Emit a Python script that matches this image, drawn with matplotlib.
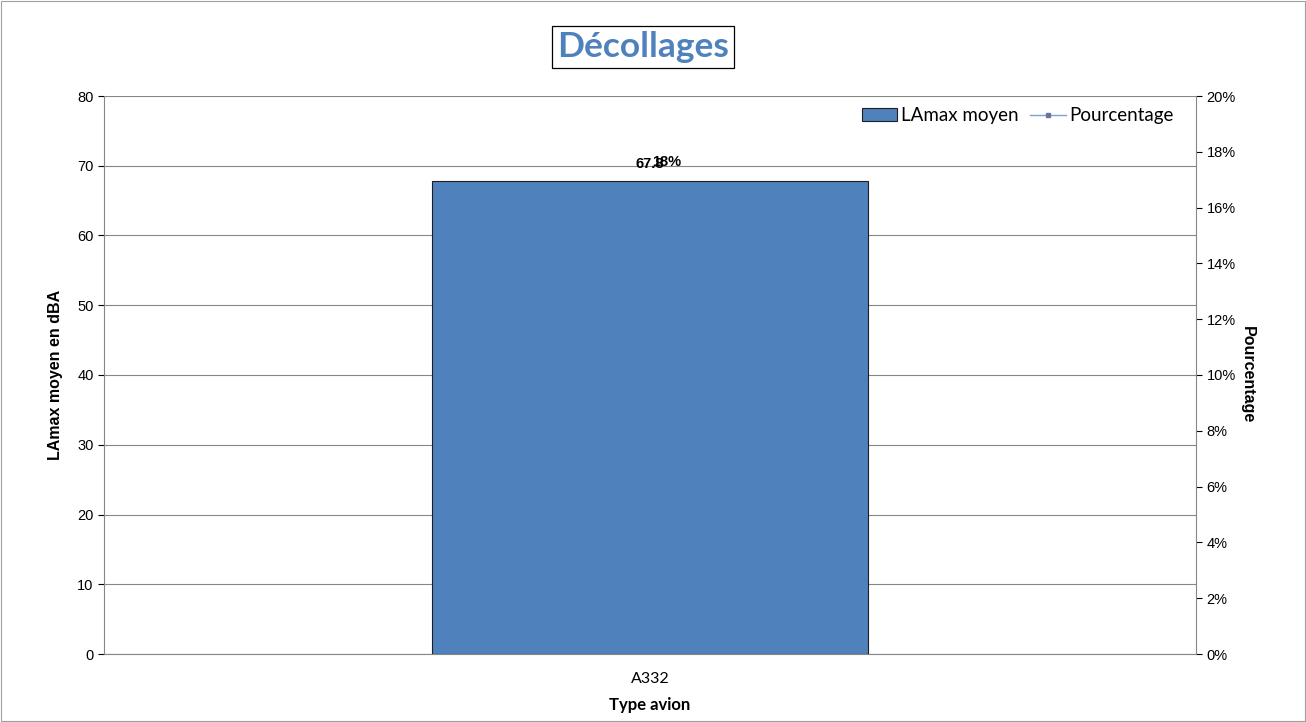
import matplotlib
matplotlib.use("Agg")
import matplotlib.pyplot as plt
from matplotlib.ticker import PercentFormatter
from matplotlib.lines import Line2D
from matplotlib.patches import Patch

categories = ["A332"]
lamax = [67.8]
pourcentage = [0.18]
left_ticks = [0, 10, 20, 30, 40, 50, 60, 70, 80]
right_ticks = [0, 0.02, 0.04, 0.06, 0.08, 0.10, 0.12, 0.14, 0.16, 0.18, 0.20]

BLUE = "#4F81BD"
fig = plt.figure(figsize=(13.06, 7.22), dpi=100)
fig.patches.append(plt.Rectangle((0.001, 0.001), 0.998, 0.998, transform=fig.transFigure,
                                 fill=False, edgecolor="#A0A0A0", linewidth=0.8))
ax = fig.add_axes([104/1306, 1-654/722, (1196-104)/1306, (654-96)/722])
x = list(range(len(categories)))
ax.bar(x, lamax, width=0.4, color=BLUE, edgecolor="#1F1F1F", linewidth=0.8, zorder=3)
ax.set_xlim(-0.5, len(categories)-0.5)
ax.set_ylim(0, 80)
ax.set_yticks(left_ticks)
ax.set_xticks(x)
ax.set_xticklabels(categories, fontfamily="Lato", fontsize=11.5)
ax.tick_params(axis="x", length=0, pad=13)
ax.tick_params(axis="y", labelsize=10.5, length=4, direction="out")
for lab in ax.get_yticklabels():
    lab.set_fontfamily("Liberation Sans")
ax.yaxis.grid(True, color="#868686", linewidth=0.8, zorder=0)
for s in ["top", "right"]:
    ax.spines[s].set_visible(False)
ax.spines["left"].set_color("#868686")
ax.spines["bottom"].set_color("#868686")
ax.set_ylabel("LAmax moyen en dBA", fontfamily="Liberation Sans", fontweight="bold", fontsize=11.5, labelpad=10)
ax.set_xlabel("Type avion", fontfamily="Lato", fontweight="bold", fontsize=12, labelpad=8)

ax2 = ax.twinx()
ax2.set_ylim(0, 0.20)
ax2.set_yticks(right_ticks)
ax2.yaxis.set_major_formatter(PercentFormatter(1.0, decimals=0))
ax2.plot(x, pourcentage, color=BLUE, linewidth=0.8, marker="s", markersize=0.1, alpha=0)
ax2.tick_params(axis="y", labelsize=10.5, length=4, direction="out", colors="black")
for lab in ax2.get_yticklabels():
    lab.set_fontfamily("Liberation Sans")
for s in ["top", "left", "bottom"]:
    ax2.spines[s].set_visible(False)
ax2.spines["right"].set_color("#868686")
ax2.set_ylabel("Pourcentage", fontfamily="Liberation Sans", fontweight="bold", fontsize=11.5,
               rotation=270, labelpad=14)

for xi, v in zip(x, lamax):
    ax.annotate(f"{v:.1f}", (xi, v), xytext=(-0.5, 7), textcoords="offset points",
                ha="center", va="bottom", fontsize=10.5, fontweight="bold", fontfamily="Liberation Sans", zorder=5)
for xi, p in zip(x, pourcentage):
    ax.annotate(f"{p*100:.0f}%", (xi, lamax[0]), xytext=(12, 9), textcoords="offset points",
                ha="center", va="bottom", fontsize=10.5, fontweight="bold", fontfamily="Liberation Sans", zorder=5)

handles = [Patch(facecolor=BLUE, edgecolor="#1F1F1F", linewidth=0.8),
           Line2D([0], [0], color="#7F9FCF", linewidth=1, marker="s", markersize=2.5,
                  markerfacecolor="#C0504D", markeredgecolor=BLUE)]
leg = ax.legend(handles, ["LAmax moyen", "Pourcentage"], loc="upper right", ncol=2, frameon=False,
                prop={"family": "Lato", "size": 13.5}, handlelength=1.9, handletextpad=0.2,
                columnspacing=0.6, bbox_to_anchor=(0.99, 1.0), borderaxespad=0.2)

fig.text(643/1306, 1-47/722, "Décollages", ha="center", va="center", fontsize=25.5, fontweight="bold",
         color=BLUE, fontfamily="Lato",
         bbox=dict(boxstyle="square,pad=0.15", facecolor="white", edgecolor="black", linewidth=0.9))

fig.savefig("out.png", dpi=100)
